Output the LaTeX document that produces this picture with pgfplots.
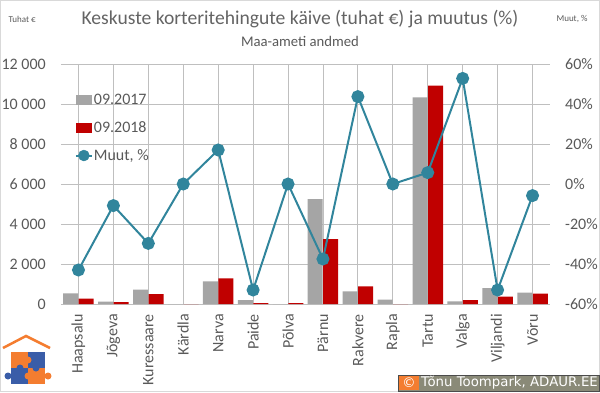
\documentclass[border=0pt]{standalone}
\usepackage{pgfplots}
\pgfplotsset{compat=1.18}
\usepackage{fontspec}
\setmainfont{Carlito}
\newfontfamily\dejavu{DejaVu Sans}
\definecolor{txt}{HTML}{595959}
\definecolor{ttl}{HTML}{646464}
\definecolor{grid}{HTML}{D9D9D9}
\definecolor{barA}{HTML}{A5A5A5}
\definecolor{barB}{HTML}{C00000}
\definecolor{lineC}{HTML}{31859C}
\definecolor{logoO}{HTML}{F47D30}
\definecolor{logoB}{HTML}{3A5DA8}
\definecolor{copyG}{HTML}{8A8A78}
\begin{document}
\begin{tikzpicture}[x=1pt,y=1pt]
\useasboundingbox (0,0) rectangle (600,392);
\draw[grid, line width=0.8pt] (0.5,0.5) rectangle (599.5,391.5);
% titles
\node[text=ttl, font=\fontsize{19.6}{23}\selectfont] at (300,373) {Keskuste korteritehingute käive (tuhat €) ja muutus (\%)};
\node[text=txt, font=\fontsize{14.7}{17}\selectfont] at (300,351) {Maa-ameti andmed};
\node[text=txt, font=\fontsize{9}{11}\selectfont, anchor=west] at (5,373) {Tuhat €};
\node[text=txt, font=\fontsize{9}{11}\selectfont, anchor=east] at (591,373) {Muut, \%};

\begin{axis}[
  at={(61pt,88pt)}, anchor=south west,
  width=489pt, height=240pt, scale only axis,
  xmin=-0.5, xmax=13.5, ymin=0, ymax=12000,
  scaled y ticks=false,
  ybar=0.5pt, bar width=15pt,
  xtick={0,...,13},
  xticklabels={Haapsalu,Jõgeva,Kuressaare,Kärdla,Narva,Paide,Põlva,Pärnu,Rakvere,Rapla,Tartu,Valga,Viljandi,Võru},
  xticklabel style={rotate=90, anchor=east, inner sep=0pt, text=txt, font=\fontsize{16}{18}\selectfont},
  xticklabel shift=10pt,
  ytick={0,2000,4000,6000,8000,10000,12000},
  yticklabels={0,2 000,4 000,6 000,8 000,10 000,12 000},
  yticklabel style={anchor=east, inner sep=0pt, text=txt, font=\fontsize{16}{18}\selectfont},
  yticklabel shift=15pt,
  major tick length=0pt,
  ymajorgrids, grid style={grid, line width=0.8pt},
  axis line style={draw=none},
  legend style={at={(rel axis cs:0.028,0.88)}, anchor=north west, draw=none, fill=none,
    font=\fontsize{16}{18}\selectfont, text=txt, row sep=13.5pt, inner sep=0pt,
    nodes={inner sep=1pt}},
  legend cell align=left,
]
\addplot[fill=barA, draw=none,
  legend image code/.code={\fill[barA] (0pt,-5pt) rectangle (16pt,5pt);}] coordinates {
(0,530) (1,117) (2,717) (3,0) (4,1133) (5,200) (6,0) (7,5250) (8,633) (9,217) (10,10333) (11,133) (12,800) (13,567)};
\addlegendentry{09.2017}
\addplot[fill=barB, draw=none,
  legend image code/.code={\fill[barB] (0pt,-5pt) rectangle (16pt,5pt);}] coordinates {
(0,270) (1,100) (2,500) (3,0) (4,1283) (5,50) (6,50) (7,3250) (8,883) (9,0) (10,10917) (11,200) (12,367) (13,517)};
\addlegendentry{09.2018}
\addlegendimage{legend image code/.code={\draw[lineC, line width=2pt] (0pt,0pt) -- (16pt,0pt); \fill[lineC] (8pt,0pt) circle (5.5pt);}}
\addlegendentry{Muut, \%}
\end{axis}

\begin{axis}[
  at={(61pt,88pt)}, anchor=south west,
  width=489pt, height=240pt, scale only axis,
  xmin=-0.5, xmax=13.5, ymin=-60, ymax=60,
  hide x axis,
  axis y line*=right,
  axis line style={draw=none},
  major tick length=0pt,
  ytick={-60,-40,-20,0,20,40,60},
  yticklabels={-60\%,-40\%,-20\%,0\%,20\%,40\%,60\%},
  yticklabel style={anchor=west, inner sep=0pt, text=txt, font=\fontsize{16}{18}\selectfont},
  yticklabel shift=15pt,
]
\addplot[lineC, line width=2pt, mark=*, mark size=5.5pt, mark options={fill=lineC}] coordinates {
(0,-43) (1,-10.8) (2,-29.7) (3,0) (4,17) (5,-53) (6,0) (7,-37.5) (8,43.7) (9,0) (10,5.7) (11,52.8) (12,-53) (13,-5.8)};
\end{axis}

% logo
\draw[logoO, line width=2.5pt] (3,44) -- (26,56) -- (50,44);
\fill[logoO] (11,24) rectangle (28,40);
\fill[logoB] (28,24) rectangle (45,40);
\fill[logoB] (11,8) rectangle (28,24);
\fill[logoO] (28,8) rectangle (45,24);
\fill[logoO] (28,32) circle (3.5);
\fill[logoB] (36,24) circle (3.5);
\fill[logoB] (8,16) circle (3.5);
\fill[logoO] (28,16) circle (3.5);
\fill[logoB] (20,24) circle (3.5);
\fill[logoO] (48,16) circle (3.5);

% copyright box
\fill[copyG] (398,1) rectangle (599,17);
\draw[black!70, line width=0.6pt] (398,1) rectangle (599,17);
\fill[logoO] (399,2) rectangle (419,16);
\node[text=white, font=\dejavu\fontsize{13.3}{15}\selectfont] at (409,9) {©};
\node[text=white, font=\dejavu\fontsize{13.3}{15}\selectfont, anchor=west, inner sep=0pt] at (421,9) {Tõnu Toompark, ADAUR.EE};
\end{tikzpicture}
\end{document}
